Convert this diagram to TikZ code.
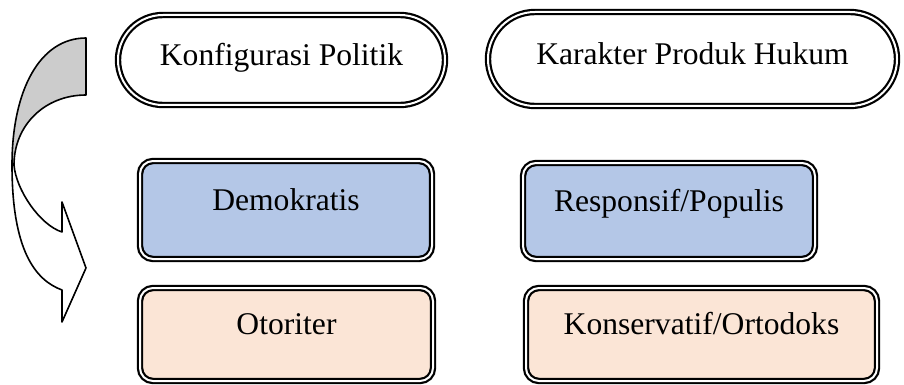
\documentclass[tikz,border=0pt]{standalone}
\usepackage{fontspec}
\setmainfont{Liberation Serif}
\usepackage{xcolor}
\definecolor{biru}{HTML}{B4C7E7}
\definecolor{krem}{HTML}{FBE5D6}
\tikzset{
	garis/.style={draw=black, line width=1.1pt, double=white, double distance=1pt},
	oval/.style={garis, fill=white, inner sep=0pt, text height=0.7em, text depth=0.1em},
	kotak/.style={garis, rounded corners=6.5pt, inner sep=0pt, text height=0.5em, text depth=0.5em}
}

\begin{document}
\begin{tikzpicture}[x=0.5pt,y=-0.5pt,font=\fontsize{15.8}{19}\selectfont]
	\useasboundingbox (0,0) rectangle (904,385);
	\draw[fill=white,line width=0.8pt,line join=round] (12,165) .. controls (12,250) and (35,280) .. (62,290) -- (62,322) -- (86,268) -- (62,202) -- (62,232) .. controls (40,225) and (16,190) .. (14,165) -- cycle;
	\draw[fill=gray!40,line width=0.8pt,line join=round] (86,38) .. controls (40,38) and (12,90) .. (12,165) -- (14,165) .. controls (14,125) and (45,95) .. (86,95) -- cycle;
	\node[oval, rounded corners=22.5pt, minimum width=163.5pt, minimum height=45pt] (konfig) at (281.5,60) {Konfigurasi Politik};
	\node[oval, rounded corners=23.5pt, minimum width=204.5pt, minimum height=47pt] (karakter) at (692.5,59) {Karakter Produk Hukum};
	\node[kotak, fill=biru, minimum width=146pt, minimum height=49pt] (demokratis) at (286,210) {Demokratis};
	\node[kotak, fill=biru, minimum width=146pt, minimum height=48pt] (responsif) at (669,211) {Responsif/Populis};
	\node[kotak, fill=krem, minimum width=146.5pt, minimum height=46.5pt] (otoriter) at (286.5,334.5) {Otoriter};
	\node[kotak, fill=krem, minimum width=175.5pt, minimum height=46.5pt] (konservatif) at (701.5,334.5) {Konservatif/Ortodoks};
\end{tikzpicture}
\end{document}
